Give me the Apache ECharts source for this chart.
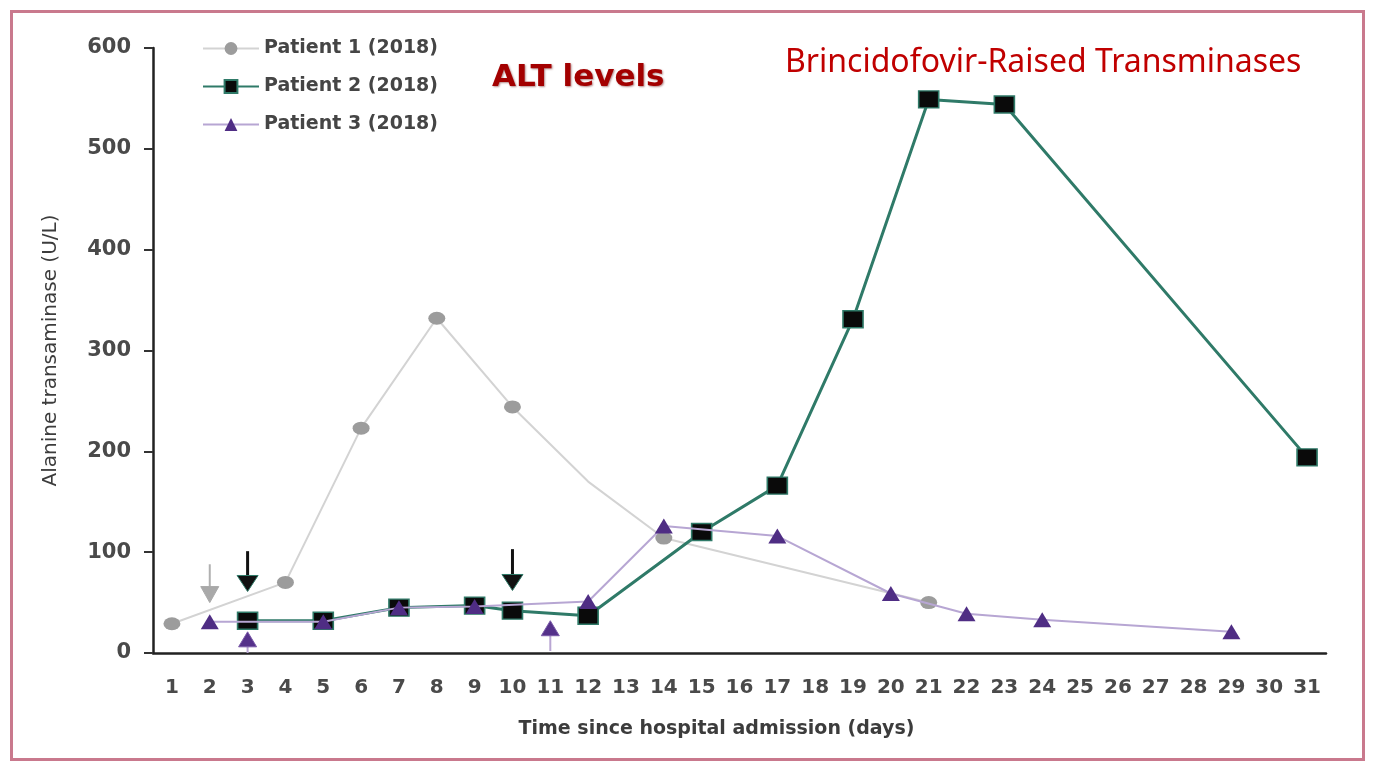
<!DOCTYPE html>
<html><head><meta charset="utf-8">
<script src="https://cdn.jsdelivr.net/npm/echarts@6/dist/echarts.min.js"></script>
<style>html,body{margin:0;padding:0;background:#fff}#c{width:1375px;height:761px}</style>
</head><body><div id="c"></div>
<script>
// ---- data ----
const dayLabels = ['1','2','3','4','5','6','7','8','9','10','11','12','13','14','15','16','17','18','19','20','21','22','23','24','25','26','27','28','29','30','31'];
const yTicks = [0, 100, 200, 300, 400, 500, 600];
const seriesNames = ['Patient 1 (2018)', 'Patient 2 (2018)', 'Patient 3 (2018)'];
const p1Days = [1, 4, 6, 8, 10, 12, 14, 21];
const p1Vals = [29, 70, 223, 332, 244, 170, 114, 50];
const p2Days = [3, 5, 7, 9, 10, 12, 15, 17, 19, 21, 23, 31];
const p2Vals = [32, 32, 45, 47, 42, 37, 120, 166, 331, 549, 544, 194];
const p3Days = [2, 5, 7, 9, 12, 14, 17, 20, 22, 24, 29];
const p3Vals = [31, 31, 45, 46, 51, 126, 116, 59, 39, 33, 21];
// treatment arrows: day, tail value, tip value, patient
const arrowDays = [2, 3, 10, 3, 11];
const arrowTail = [88, 101, 103, 0, 2];
const arrowTip = [50, 61, 62, 21, 32];
const arrowPatient = [1, 2, 2, 3, 3];
// ---- end data ----

const chart = echarts.init(document.getElementById('c'));
const mk = (days, vals) => days.map((d, i) => [String(d), vals[i]]);
const p1Data = mk(p1Days, p1Vals).map(p => p[0] === '12' ? { value: p, symbolSize: 0 } : p);

const arrowStyle = {
  1: { fill: '#a9a9a9', stroke: '#a9a9a9', shaftColor: '#b0b0b0', shaft: 2, w: 18, h: 16 },
  2: { fill: '#111111', stroke: '#2f7a68', shaftColor: '#111111', shaft: 3, w: 21, h: 16 },
  3: { fill: '#55318a', stroke: '#7a5aa8', shaftColor: '#b9a6d3', shaft: 2, w: 18, h: 15 }
};
const arrowData = arrowDays.map((d, i) => [String(d), arrowTail[i], arrowTip[i], arrowPatient[i]]);

const FONT = 'DejaVu Sans';
const option = {
  animation: false,
  backgroundColor: '#ffffff',
  textStyle: { fontFamily: FONT },
  graphic: [
    { type: 'rect', left: 9, top: 9, shape: { width: 1352, height: 748 }, style: { fill: 'none', stroke: '#c9798d', lineWidth: 3 }, z: -1 },
    { type: 'text', left: 492, top: 62, style: { text: 'ALT levels', fill: '#a30000', font: 'bold 31px "DejaVu Sans"', textShadowColor: 'rgba(90,0,0,0.45)', textShadowBlur: 2, textShadowOffsetX: 1, textShadowOffsetY: 1 } },
    { type: 'text', left: 785, top: 47, style: { text: 'Brincidofovir-Raised Transminases', fill: '#c00000', font: '32px "Noto Sans"' } }
  ],
  legend: {
    orient: 'vertical', left: 197, top: 33, itemWidth: 56, itemHeight: 16, itemGap: 17,
    data: seriesNames,
    textStyle: { fontSize: 19, fontWeight: 'bold', color: '#454545', fontFamily: FONT, lineHeight: 21 }
  },
  grid: { left: 153, right: 49, top: 48, bottom: 108 },
  xAxis: {
    type: 'category', data: dayLabels, boundaryGap: true,
    name: 'Time since hospital admission (days)', nameLocation: 'middle', nameGap: 67,
    nameTextStyle: { fontSize: 19, fontWeight: 'bold', color: '#3c3c3c', padding: [0, 46, 0, 0] },
    axisLine: { lineStyle: { color: '#222', width: 2.5 } },
    axisTick: { alignWithLabel: true, length: 10, lineStyle: { color: '#333', width: 2.5 } },
    axisLabel: { fontSize: 20, fontWeight: 'bold', color: '#4a4a4a', margin: 25, interval: 0 }
  },
  yAxis: {
    type: 'value', min: yTicks[0], max: yTicks[yTicks.length - 1], interval: yTicks[1] - yTicks[0],
    name: 'Alanine transaminase (U/L)', nameLocation: 'middle', nameGap: 92,
    nameTextStyle: { fontSize: 20, color: '#3c3c3c' },
    splitLine: { show: false },
    axisLine: { show: true, lineStyle: { color: '#222', width: 2.5 } },
    axisTick: { show: true, length: 9, lineStyle: { color: '#333', width: 2 } },
    axisLabel: { fontSize: 21, fontWeight: 'bold', color: '#4a4a4a', margin: 22 }
  },
  series: [
    {
      name: seriesNames[0], type: 'line', data: p1Data, z: 2,
      symbol: 'circle', symbolSize: [17, 13],
      lineStyle: { color: '#d3d3d3', width: 2 },
      itemStyle: { color: '#9c9c9c' }
    },
    {
      name: seriesNames[1], type: 'line', data: mk(p2Days, p2Vals), z: 3,
      symbol: 'rect', symbolSize: [20, 17],
      lineStyle: { color: '#2f7a68', width: 3 },
      itemStyle: { color: '#0a0a0a', borderColor: '#2f7a68', borderWidth: 1.5 }
    },
    {
      name: seriesNames[2], type: 'line', data: mk(p3Days, p3Vals), z: 4,
      symbol: 'triangle', symbolSize: [18, 15],
      lineStyle: { color: '#b7a6d3', width: 2 },
      itemStyle: { color: '#4f2d84' }
    },
    {
      name: 'arrows', type: 'custom', data: arrowData, z: 5,
      renderItem: function (params, api) {
        const tail = api.coord([api.value(0), api.value(1)]);
        const tip = api.coord([api.value(0), api.value(2)]);
        const s = arrowStyle[api.value(3)];
        const dir = tip[1] > tail[1] ? 1 : -1;
        const baseY = tip[1] - dir * s.h;
        return {
          type: 'group',
          children: [
            { type: 'line', shape: { x1: tail[0], y1: tail[1], x2: tip[0], y2: baseY }, style: { stroke: s.shaftColor, lineWidth: s.shaft } },
            { type: 'polygon', shape: { points: [[tip[0] - s.w / 2, baseY], [tip[0] + s.w / 2, baseY], [tip[0], tip[1]]] }, style: { fill: s.fill, stroke: s.stroke, lineWidth: 1 } }
          ]
        };
      }
    }
  ]
};
chart.setOption(option);
</script>
</body></html>
